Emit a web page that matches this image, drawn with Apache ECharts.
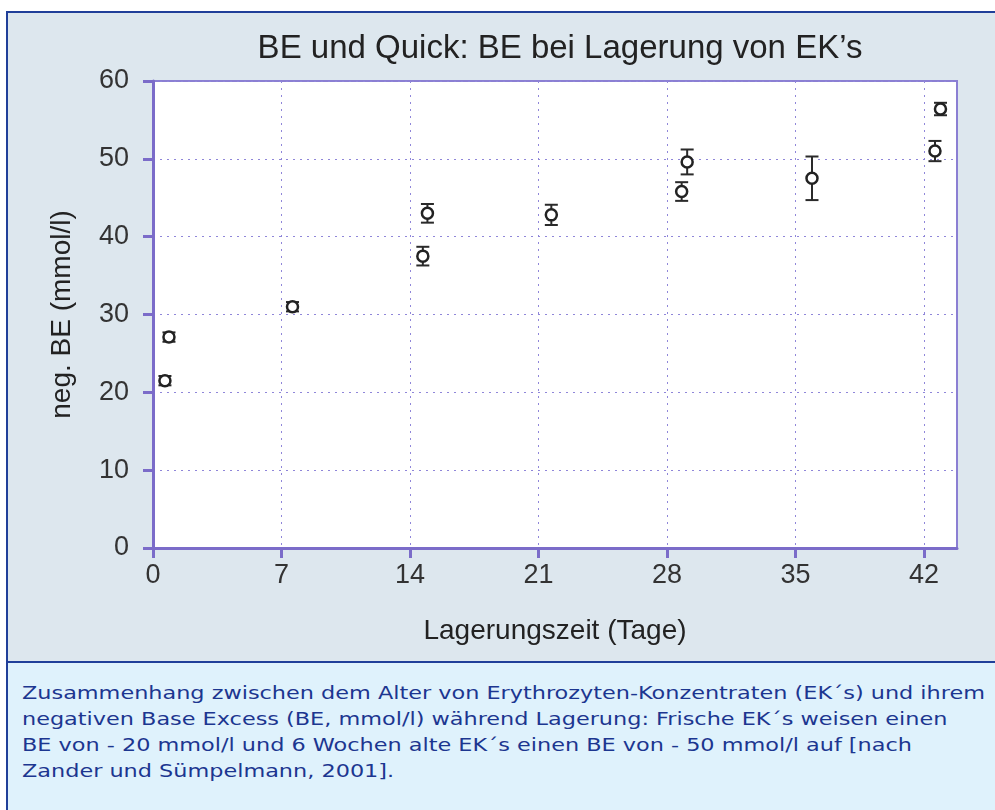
<!DOCTYPE html>
<html>
<head>
<meta charset="utf-8">
<script src="https://cdn.jsdelivr.net/npm/echarts@6/dist/echarts.min.js"></script>
<style>
    html, body { margin: 0; padding: 0; width: 995px; height: 810px; overflow: hidden; background: #ffffff; }
    .top-panel {
        position: absolute; left: 6px; top: 11px; width: 1000px; height: 650px;
        background: #dde7ee; border-left: 2px solid #203f99; border-top: 2px solid #203f99;
    }
    .bottom-panel {
        position: absolute; left: 6px; top: 661px; width: 1000px; height: 160px;
        background: #dff2fc; border-left: 2px solid #203f99; border-top: 2px solid #203f99;
    }
    .caption {
        position: absolute; left: 22px; top: 680px; white-space: nowrap;
        font-family: "DejaVu Sans", Verdana, sans-serif; font-size: 17px; line-height: 26px;
        color: #1c3690; transform-origin: 0 0;
    }
    .chart { position: absolute; left: 0; top: 0; width: 995px; height: 660px; }
</style>
</head>
<body>
<div class="top-panel"></div>
<div class="bottom-panel"></div>
<div class="caption" id="caption">
    <span id="line1">Zusammenhang zwischen dem Alter von Erythrozyten-Konzentraten (EK´s) und ihrem</span><br>
    negativen Base Excess (BE, mmol/l) während Lagerung: Frische EK´s weisen einen<br>
    BE von - 20 mmol/l und 6 Wochen alte EK´s einen BE von - 50 mmol/l auf [nach<br>
    Zander und Sümpelmann, 2001].
</div>
<div class="chart"></div>
<script>
// 数据
var days = [0.65, 0.87, 7.6, 14.7, 14.95, 21.7, 28.8, 29.1, 35.9, 42.6, 42.9];
var negBE = [21.5, 27.1, 31.0, 37.5, 43.0, 42.8, 45.8, 49.6, 47.5, 51.0, 56.4];
var errBE = [0.6, 0.6, 0.6, 1.2, 1.2, 1.3, 1.2, 1.6, 2.8, 1.3, 0.8];
var xTicks = [0, 7, 14, 21, 28, 35, 42];

// 说明文字拉宽到原图宽度
(function () {
    var cap = document.getElementById("caption");
    var w = document.getElementById("line1").getBoundingClientRect().width;
    cap.style.transform = "scaleX(" + (963 / w) + ")";
})();

(function () {
    var myChart = echarts.init(document.querySelector(".chart"));
    var purple = "#7b6cc9";
    var points = [];
    var bars = [];
    for (var i = 0; i < days.length; i++) {
        points.push([days[i], negBE[i]]);
        bars.push([days[i], negBE[i] - errBE[i], negBE[i] + errBE[i]]);
    }
    var option = {
        animation: false,
        title: {
            text: "BE und Quick: BE bei Lagerung von EK’s",
            left: 555,
            textAlign: "center",
            top: 27,
            textStyle: {
                fontFamily: "Liberation Sans, Arial, sans-serif",
                fontWeight: "normal",
                fontSize: 33,
                color: "#222",
            },
        },
        grid: {
            left: 153,
            right: 38,
            top: 81,
            bottom: 112,
            show: true,
            backgroundColor: "#ffffff",
            borderColor: "#8b7fd3",
            borderWidth: 2,
        },
        xAxis: {
            type: "value",
            min: 0,
            max: 43.8,
            interval: 7,
            name: "Lagerungszeit (Tage)",
            nameLocation: "middle",
            nameGap: 69,
            nameTextStyle: {
                fontFamily: "Liberation Sans, Arial, sans-serif",
                fontSize: 28,
                color: "#222",
            },
            axisLine: { show: true, lineStyle: { color: purple, width: 3 } },
            axisTick: {
                show: true,
                length: 10,
                customValues: xTicks,
                lineStyle: { color: purple, width: 3 },
            },
            axisLabel: {
                customValues: xTicks,
                margin: 14,
                fontFamily: "Liberation Sans, Arial, sans-serif",
                fontSize: 27,
                color: "#333",
            },
            splitLine: {
                show: true,
                lineStyle: { color: "#8f86d9", type: [2, 5], width: 1 },
            },
        },
        yAxis: {
            type: "value",
            min: 0,
            max: 60,
            interval: 10,
            name: "neg. BE (mmol/l)",
            nameLocation: "middle",
            nameGap: 77,
            nameTextStyle: {
                fontFamily: "Liberation Sans, Arial, sans-serif",
                fontSize: 28,
                color: "#222",
            },
            axisLine: { show: true, lineStyle: { color: purple, width: 3 } },
            axisTick: { show: true, length: 10, lineStyle: { color: purple, width: 3 } },
            axisLabel: {
                margin: 24,
                fontFamily: "Liberation Sans, Arial, sans-serif",
                fontSize: 27,
                color: "#333",
            },
            splitLine: {
                show: true,
                lineStyle: { color: "#8f86d9", type: [2, 5], width: 1 },
            },
        },
        series: [
            {
                // 误差线
                type: "custom",
                data: bars,
                z: 2,
                renderItem: function (params, api) {
                    var x = api.value(0);
                    var lo = api.coord([x, api.value(1)]);
                    var hi = api.coord([x, api.value(2)]);
                    var w = 6.5;
                    var st = { stroke: "#2a2a2a", lineWidth: 2 };
                    return {
                        type: "group",
                        children: [
                            { type: "line", shape: { x1: lo[0], y1: lo[1], x2: hi[0], y2: hi[1] }, style: st },
                            { type: "line", shape: { x1: lo[0] - w, y1: lo[1], x2: lo[0] + w, y2: lo[1] }, style: st },
                            { type: "line", shape: { x1: hi[0] - w, y1: hi[1], x2: hi[0] + w, y2: hi[1] }, style: st },
                        ],
                    };
                },
            },
            {
                // 数据点
                type: "scatter",
                data: points,
                z: 3,
                symbol: "circle",
                symbolSize: 11,
                itemStyle: {
                    color: "#ffffff",
                    borderColor: "#222",
                    borderWidth: 2.5,
                    opacity: 1,
                },
            },
        ],
    };
    myChart.setOption(option);
})();
</script>
</body>
</html>
